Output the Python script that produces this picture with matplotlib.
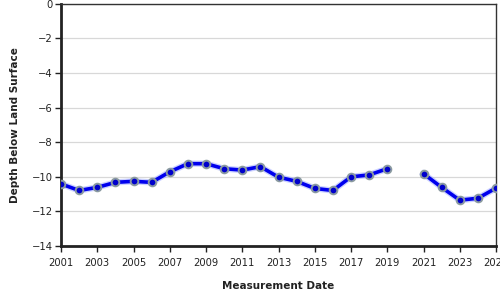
import numpy as np
import matplotlib.pyplot as plt

# Depth below land surface, one reading per year (2020 missing)
years = [2001, 2002, 2003, 2004, 2005, 2006, 2007, 2008, 2009, 2010, 2011, 2012,
         2013, 2014, 2015, 2016, 2017, 2018, 2019, 2020, 2021, 2022, 2023, 2024, 2025]
depth = [-10.41, -10.79, -10.61, -10.32, -10.26, -10.32, -9.71, -9.24, -9.24, -9.53,
         -9.61, -9.41, -10.02, -10.26, -10.67, -10.79, -10.0, -9.89, -9.53, np.nan,
         -9.82, -10.61, -11.35, -11.24, -10.65]
x_ticks = list(range(2001, 2026, 2))
y_ticks = [0, -2, -4, -6, -8, -10, -12, -14]

fig = plt.figure(figsize=(5, 3), dpi=100)
ax = fig.add_axes([0.122, 0.18, 0.870, 0.807])

# line with a faint glow, then markers with grey rims
ax.plot(years, depth, color='#9aa6ff', linewidth=4.5, alpha=0.5, zorder=2)
ax.plot(years, depth, color='#0000ee', linewidth=2.6, zorder=3)
ax.plot(years, depth, linestyle='none', marker='o', markersize=5.5,
        markerfacecolor='#0000cc', markeredgecolor='#8a9aa0', markeredgewidth=1.4, zorder=4)

ax.set_xlim(2001, 2025)
ax.set_ylim(-14, 0)
ax.set_xticks(x_ticks)
ax.set_xticklabels([str(t) for t in x_ticks])
ax.set_yticks(y_ticks)
ax.grid(axis='y', color='#d8d8d8', linewidth=0.9)
ax.set_axisbelow(True)

for side in ['left', 'bottom']:
    ax.spines[side].set_linewidth(2)
    ax.spines[side].set_color('#222222')
for side in ['top', 'right']:
    ax.spines[side].set_linewidth(1)
    ax.spines[side].set_color('#333333')

ax.tick_params(axis='both', labelsize=7.2, colors='#222222', length=4, width=1)
ax.tick_params(axis='x', pad=5)
ax.tick_params(axis='y', pad=2)
ax.set_xlabel('Measurement Date', fontsize=7.5, fontweight='bold', color='#222222', labelpad=9)
ax.set_ylabel('Depth Below Land Surface', fontsize=7.5, fontweight='bold', color='#222222', labelpad=8)

fig.savefig('out.png', dpi=100)
